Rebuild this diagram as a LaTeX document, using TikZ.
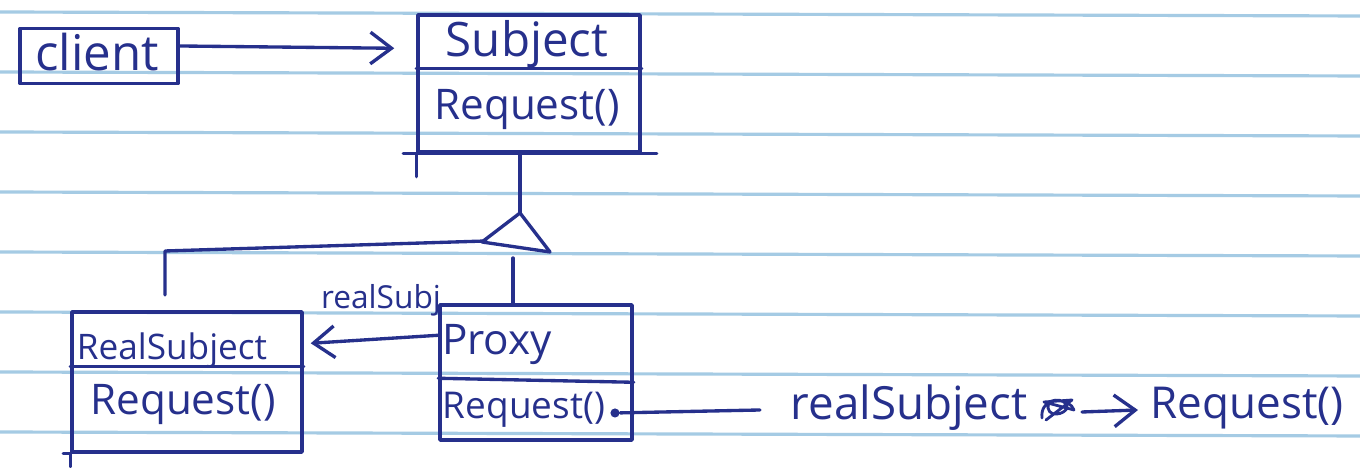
\documentclass[tikz,border=0pt]{standalone}
\usepackage{fontspec}
\setmainfont{Open Sans}
\usetikzlibrary{arrows.meta,calc}
\definecolor{ink}{RGB}{38,48,140}
\definecolor{rulecol}{RGB}{165,203,228}
\begin{document}
\begin{tikzpicture}[x=0.01cm,y=-0.01cm,
  inkline/.style={draw=ink,line width=0.95pt,line cap=round,line join=round},
  box/.style={inkline,rectangle,inner sep=0pt},
  lbl/.style={text=ink,inner sep=0pt,font=\fontsize{#1}{#1}\selectfont},
  lbl/.default=12,
  opentip/.style={-{Straight Barb[length=6pt,width=9pt,line width=0.95pt]}}]
\fill[white] (0,0) rectangle (1360,468);
\useasboundingbox (0,0) rectangle (1360,468);
% ruled paper
\foreach \yy in {12,72,...,432} \draw[rulecol,line width=0.9pt] (0,\yy) -- (1360,\yy+4);

% client
\node[box,minimum width=1.58cm,minimum height=0.55cm] (client) at (99,56) {};
\node[lbl=14] (clienttxt) at (97,52) {client};

% Subject
\node[box,minimum width=2.22cm,minimum height=1.37cm] (subject) at (529,83.5) {};
\node[lbl=13.5] (subjname) at (527,44) {Subject};
\node[lbl=12] (subjop) at (527,110) {Request()};
\draw[inkline] ($(subject.north west)+(0,55)$) -- ($(subject.north east)+(0,55)$);
\draw[inkline] ($(subject.south west)+(-13,0)$) -- ($(subject.south east)+(15,0)$);
\draw[inkline] (subject.south west) -- ($(subject.south west)+(0,23)$);

% RealSubject
\node[box,minimum width=2.30cm,minimum height=1.40cm] (real) at (187,382) {};
\node[lbl=10] (realname) at (172,350) {RealSubject};
\node[lbl=12] (realop) at (183,405) {Request()};
\draw[inkline] ($(real.north west)+(0,56)$) -- ($(real.north east)+(0,56)$);
\draw[inkline] (real.south west) -- ($(real.south west)+(0,13)$);
\draw[inkline] (real.south west) -- ($(real.south west)+(-7,0)$);

% Proxy
\node[box,minimum width=1.92cm,minimum height=1.35cm] (proxy) at (536,372.5) {};
\node[lbl=12] (proxyname) at (497,345) {Proxy};
\node[lbl=10.5] (proxyop) at (524,410) {Request()};
\draw[inkline] ($(proxy.north west)+(0,75)$) -- ($(proxy.north east)+(0,79)$);
\node[circle,fill=ink,inner sep=0pt,minimum size=2.6pt] (dot) at (615,413) {};

% client -> Subject
\draw[inkline,opentip] ($(client.east)+(0,-10)$) -- ($(subject.north west)+(-22,35)$);

% generalization
\coordinate (apex) at (520,213);
\coordinate (tl) at (482,242);
\coordinate (tr) at (550,252);
\draw[inkline] (apex |- subject.south) -- (apex);
\draw[inkline] (apex) -- (tl) -- (tr) -- cycle;
\coordinate (rsup) at (165,295);
\draw[inkline] ($(tl)+(4,-1)$) -- (165,251) -- (rsup);
\coordinate (pbase) at (513,258);
\draw[inkline] (pbase) -- (proxy.north -| pbase);

% Proxy -> RealSubject
\draw[inkline,opentip] ($(proxy.north west)+(0,32)$) -- ($(real.north east)+(7,33)$);
\node[lbl=9] (reallbl) at (381,300) {realSubj};

% note
\coordinate (lineend) at (760,410);
\draw[inkline] (dot) -- (lineend);
\node[lbl=13,anchor=west] (rsj) at (790,408) {realSubject};
\draw[inkline,line width=0.8pt] (1042,418) .. controls (1040,400) and (1060,396) .. (1066,404)
  .. controls (1072,412) and (1050,420) .. (1048,408) .. controls (1046,398) and (1070,398) .. (1074,410)
  -- (1044,402) -- (1072,400) -- (1046,420);
\node[lbl=12.5,anchor=west] (req) at (1150,408) {Request()};
\coordinate (arrs) at (1082,412);
\draw[inkline,opentip] (arrs) -- ($(req.west)+(-12,2)$);
\end{tikzpicture}
\end{document}
